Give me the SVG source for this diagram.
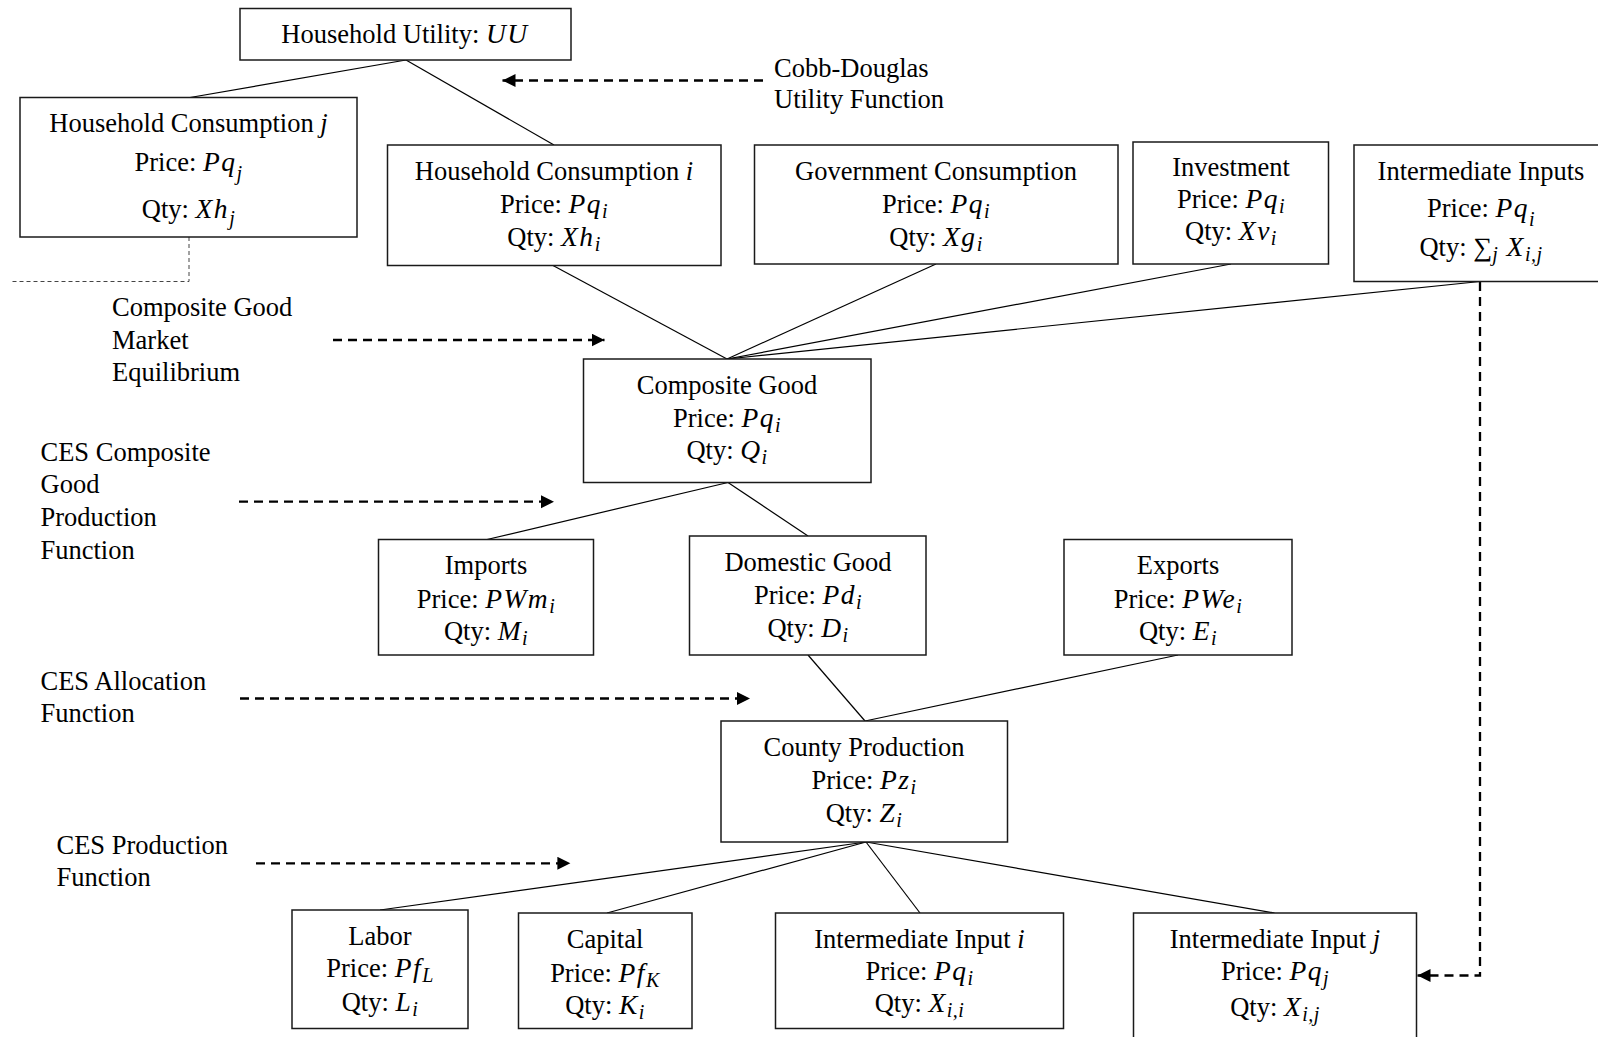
<svg xmlns="http://www.w3.org/2000/svg" width="1598" height="1037" viewBox="0 0 1598 1037">
<style>
.bg{fill:#fff}
.box{fill:#fff;stroke:#1a1a1a;stroke-width:1.5}
.t{font-family:"Liberation Serif","Times New Roman",serif;font-size:26.5px;fill:#000}
.c{text-anchor:middle}
.m{font-style:italic;font-size:27.5px;letter-spacing:1.5px}
.w{font-style:italic}
.s{font-size:20px;font-style:italic;letter-spacing:0.5px}
.edge{stroke:#000;stroke-width:1.2;fill:none}
.dash{stroke:#000;stroke-width:2.3;stroke-dasharray:9 6;fill:none}
.dot{stroke:#444;stroke-width:1;stroke-dasharray:4 3;fill:none}
</style>
<defs>
<marker id="ah" markerUnits="userSpaceOnUse" markerWidth="14" markerHeight="14" refX="13" refY="6.5" orient="auto">
<path d="M0,0 L13,6.5 L0,13 z" fill="#000"/>
</marker>
</defs>
<rect class="bg" x="0" y="0" width="1598" height="1037"/>

<g id="connectors">
<line class="edge" x1="406" y1="60" x2="190" y2="97.5"/>
<line class="edge" x1="406" y1="60" x2="554" y2="145"/>
<line class="edge" x1="727" y1="359" x2="553" y2="265.5"/>
<line class="edge" x1="727" y1="359" x2="936" y2="264"/>
<line class="edge" x1="727" y1="359" x2="1231" y2="264"/>
<line class="edge" x1="727" y1="359" x2="1480" y2="281.5"/>
<line class="edge" x1="728" y1="482.5" x2="487" y2="539.5"/>
<line class="edge" x1="728" y1="482.5" x2="808" y2="536"/>
<line class="edge" x1="808" y1="655" x2="865" y2="721"/>
<line class="edge" x1="1178" y1="655" x2="865" y2="721"/>
<line class="edge" x1="866" y1="842" x2="380" y2="910"/>
<line class="edge" x1="866" y1="842" x2="607" y2="913"/>
<line class="edge" x1="866" y1="842" x2="920" y2="913"/>
<line class="edge" x1="866" y1="842" x2="1274.5" y2="913"/>
<polyline class="dot" points="189,237 189,281.5 12,281.5"/>
<line class="dash" x1="763" y1="80.5" x2="502.5" y2="80.5" marker-end="url(#ah)"/>
<line class="dash" x1="333" y1="340" x2="604.5" y2="340" marker-end="url(#ah)"/>
<line class="dash" x1="239" y1="501.7" x2="554" y2="501.7" marker-end="url(#ah)"/>
<line class="dash" x1="240" y1="698.5" x2="750" y2="698.5" marker-end="url(#ah)"/>
<line class="dash" x1="256" y1="863.3" x2="570.4" y2="863.3" marker-end="url(#ah)"/>
<polyline class="dash" points="1480,282 1480,975.5 1417.5,975.5" marker-end="url(#ah)"/>
</g>

<g id="labels">
<text class="t" x="774" y="77">Cobb-Douglas</text>
<text class="t" x="774" y="108">Utility Function</text>
<text class="t" x="112" y="316">Composite Good</text>
<text class="t" x="112" y="348.5">Market</text>
<text class="t" x="112" y="381">Equilibrium</text>
<text class="t" x="40.5" y="460.7">CES Composite</text>
<text class="t" x="40.5" y="493.3">Good</text>
<text class="t" x="40.5" y="526">Production</text>
<text class="t" x="40.5" y="558.5">Function</text>
<text class="t" x="40.5" y="689.5">CES Allocation</text>
<text class="t" x="40.5" y="722">Function</text>
<text class="t" x="56.5" y="853.5">CES Production</text>
<text class="t" x="56.5" y="886">Function</text>
</g>

<g id="household-utility">
<rect class="box" x="240" y="8.5" width="331" height="51.5"/>
<text class="t c" x="405" y="43">Household Utility: <tspan class="m">UU</tspan></text>
</g>

<g id="household-consumption-j">
<rect class="box" x="20" y="97.5" width="337" height="139.5"/>
<text class="t c" x="188.5" y="132">Household Consumption <tspan class="w">j</tspan></text>
<text class="t c" x="188.5" y="171">Price: <tspan class="m">Pq</tspan><tspan class="s" dy="9">j</tspan></text>
<text class="t c" x="188.5" y="218">Qty: <tspan class="m">Xh</tspan><tspan class="s" dy="7">j</tspan></text>
</g>

<g id="household-consumption-i">
<rect class="box" x="387.5" y="145" width="333.5" height="120.5"/>
<text class="t c" x="554" y="180">Household Consumption <tspan class="w">i</tspan></text>
<text class="t c" x="554" y="213">Price: <tspan class="m">Pq</tspan><tspan class="s" dy="5">i</tspan></text>
<text class="t c" x="554" y="246">Qty: <tspan class="m">Xh</tspan><tspan class="s" dy="5">i</tspan></text>
</g>

<g id="government-consumption">
<rect class="box" x="754.5" y="145" width="363.5" height="119"/>
<text class="t c" x="936" y="180">Government Consumption</text>
<text class="t c" x="936" y="213">Price: <tspan class="m">Pq</tspan><tspan class="s" dy="5">i</tspan></text>
<text class="t c" x="936" y="246">Qty: <tspan class="m">Xg</tspan><tspan class="s" dy="5">i</tspan></text>
</g>

<g id="investment">
<rect class="box" x="1133" y="142" width="195.5" height="122"/>
<text class="t c" x="1231" y="175.5">Investment</text>
<text class="t c" x="1231" y="208">Price: <tspan class="m">Pq</tspan><tspan class="s" dy="5">i</tspan></text>
<text class="t c" x="1231" y="240">Qty: <tspan class="m">Xv</tspan><tspan class="s" dy="5">i</tspan></text>
</g>

<g id="intermediate-inputs">
<rect class="box" x="1354" y="145" width="256" height="136.5"/>
<text class="t c" x="1481" y="180">Intermediate Inputs</text>
<text class="t c" x="1481" y="217">Price: <tspan class="m">Pq</tspan><tspan class="s" dy="9">i</tspan></text>
<text class="t c" x="1481" y="256">Qty: ∑<tspan class="s" dy="5">j</tspan><tspan class="m" dy="-5"> X</tspan><tspan class="s" dy="5">i,j</tspan></text>
</g>

<g id="composite-good">
<rect class="box" x="583.5" y="359" width="287.5" height="123.5"/>
<text class="t c" x="727" y="394">Composite Good</text>
<text class="t c" x="727" y="426.5">Price: <tspan class="m">Pq</tspan><tspan class="s" dy="5">i</tspan></text>
<text class="t c" x="727" y="459">Qty: <tspan class="m">Q</tspan><tspan class="s" dy="5">i</tspan></text>
</g>

<g id="imports">
<rect class="box" x="378.5" y="539.5" width="215" height="115.5"/>
<text class="t c" x="486" y="574">Imports</text>
<text class="t c" x="486" y="607.5">Price: <tspan class="m">PWm</tspan><tspan class="s" dy="5">i</tspan></text>
<text class="t c" x="486" y="640">Qty: <tspan class="m">M</tspan><tspan class="s" dy="5">i</tspan></text>
</g>

<g id="domestic-good">
<rect class="box" x="689.5" y="536" width="236.5" height="119"/>
<text class="t c" x="808" y="570.5">Domestic Good</text>
<text class="t c" x="808" y="604">Price: <tspan class="m">Pd</tspan><tspan class="s" dy="5">i</tspan></text>
<text class="t c" x="808" y="637">Qty: <tspan class="m">D</tspan><tspan class="s" dy="5">i</tspan></text>
</g>

<g id="exports">
<rect class="box" x="1064" y="539.5" width="228" height="115.5"/>
<text class="t c" x="1178" y="574">Exports</text>
<text class="t c" x="1178" y="607.5">Price: <tspan class="m">PWe</tspan><tspan class="s" dy="5">i</tspan></text>
<text class="t c" x="1178" y="640">Qty: <tspan class="m">E</tspan><tspan class="s" dy="5">i</tspan></text>
</g>

<g id="county-production">
<rect class="box" x="721" y="721" width="286.5" height="121"/>
<text class="t c" x="864" y="755.5">County Production</text>
<text class="t c" x="864" y="788.5">Price: <tspan class="m">Pz</tspan><tspan class="s" dy="5">i</tspan></text>
<text class="t c" x="864" y="822">Qty: <tspan class="m">Z</tspan><tspan class="s" dy="5">i</tspan></text>
</g>

<g id="labor">
<rect class="box" x="292" y="910" width="176" height="118.5"/>
<text class="t c" x="380" y="945">Labor</text>
<text class="t c" x="380" y="977">Price: <tspan class="m">Pf</tspan><tspan class="s" dy="5">L</tspan></text>
<text class="t c" x="380" y="1011">Qty: <tspan class="m">L</tspan><tspan class="s" dy="5">i</tspan></text>
</g>

<g id="capital">
<rect class="box" x="518.5" y="913" width="173.5" height="115.5"/>
<text class="t c" x="605" y="948">Capital</text>
<text class="t c" x="605" y="982">Price: <tspan class="m">Pf</tspan><tspan class="s" dy="5">K</tspan></text>
<text class="t c" x="605" y="1014">Qty: <tspan class="m">K</tspan><tspan class="s" dy="5">i</tspan></text>
</g>

<g id="intermediate-input-i">
<rect class="box" x="775.5" y="913" width="288" height="115.5"/>
<text class="t c" x="919.5" y="947.5">Intermediate Input <tspan class="w">i</tspan></text>
<text class="t c" x="919.5" y="980">Price: <tspan class="m">Pq</tspan><tspan class="s" dy="5">i</tspan></text>
<text class="t c" x="919.5" y="1012">Qty: <tspan class="m">X</tspan><tspan class="s" dy="5">i,i</tspan></text>
</g>

<g id="intermediate-input-j">
<rect class="box" x="1133.5" y="913" width="283" height="132"/>
<text class="t c" x="1275" y="947.5">Intermediate Input <tspan class="w">j</tspan></text>
<text class="t c" x="1275" y="980">Price: <tspan class="m">Pq</tspan><tspan class="s" dy="5">j</tspan></text>
<text class="t c" x="1275" y="1016">Qty: <tspan class="m">X</tspan><tspan class="s" dy="5">i,j</tspan></text>
</g>
</svg>
